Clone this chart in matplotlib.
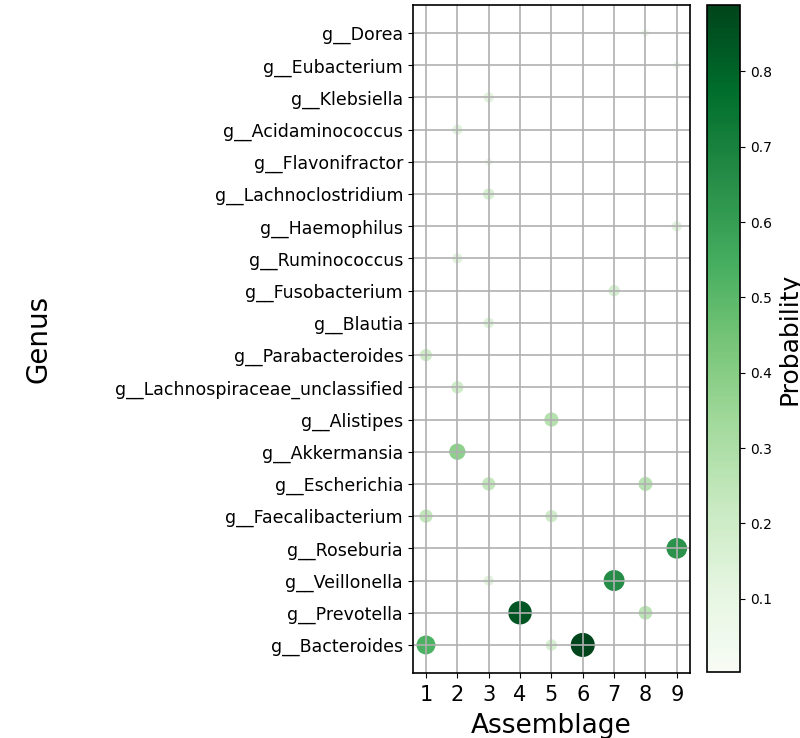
import numpy as np
import pandas as pd
import matplotlib
matplotlib.use('Agg')
import matplotlib.pyplot as plt

# ── genus order, top to bottom ──
GENERA = [
    'g__Dorea', 'g__Eubacterium', 'g__Klebsiella', 'g__Acidaminococcus',
    'g__Flavonifractor', 'g__Lachnoclostridium', 'g__Haemophilus',
    'g__Ruminococcus', 'g__Fusobacterium', 'g__Blautia', 'g__Parabacteroides',
    'g__Lachnospiraceae_unclassified', 'g__Alistipes', 'g__Akkermansia',
    'g__Escherichia', 'g__Faecalibacterium', 'g__Roseburia', 'g__Veillonella',
    'g__Prevotella', 'g__Bacteroides',
]
ASSEMBLAGES = [1, 2, 3, 4, 5, 6, 7, 8, 9]

# ── points (genus, assemblage, probability) ──
genus = [
    'g__Dorea', 'g__Eubacterium', 'g__Klebsiella', 'g__Acidaminococcus',
    'g__Flavonifractor', 'g__Lachnoclostridium', 'g__Haemophilus',
    'g__Ruminococcus', 'g__Fusobacterium', 'g__Blautia', 'g__Parabacteroides',
    'g__Lachnospiraceae_unclassified', 'g__Alistipes', 'g__Akkermansia',
    'g__Escherichia', 'g__Escherichia',
    'g__Faecalibacterium', 'g__Faecalibacterium',
    'g__Roseburia',
    'g__Veillonella', 'g__Veillonella',
    'g__Prevotella', 'g__Prevotella',
    'g__Bacteroides', 'g__Bacteroides', 'g__Bacteroides', 'g__Bacteroides',
    'g__Bacteroides',
]
assemblage = [8, 9, 3, 2, 3, 3, 9, 2, 7, 3, 1, 2, 5, 2,
              3, 8, 1, 5, 9, 3, 7, 4, 8, 1, 4, 5, 6, 8]
probability = [0.06, 0.06, 0.13, 0.13, 0.06, 0.17, 0.13, 0.13, 0.17, 0.14,
               0.20, 0.20, 0.28, 0.38, 0.24, 0.27, 0.24, 0.20, 0.64, 0.13,
               0.66, 0.84, 0.26, 0.53, 0.003, 0.17, 0.888, 0.015]

df = pd.DataFrame({'genus': genus, 'assemblage': assemblage, 'prob': probability})
ypos = {g: len(GENERA) - 1 - i for i, g in enumerate(GENERA)}
df['y'] = df['genus'].map(ypos)

fig = plt.figure(figsize=(8, 7.38), dpi=100)
ax = fig.add_axes([0.516, 0.0881, 0.3465, 0.9051])
cax = fig.add_axes([0.884, 0.0895, 0.041, 0.9037])

sc = ax.scatter(df['assemblage'], df['y'], c=df['prob'], s=df['prob'] * 300,
                cmap='Greens', zorder=1)
ax.grid(True, color='#b0b0b0', lw=1.2, zorder=1.5)

ax.set_xlim(0.58, 9.42)
ax.set_ylim(-0.87, len(GENERA) - 1 + 0.87)
ax.set_xticks(ASSEMBLAGES)
ax.set_xticklabels([str(a) for a in ASSEMBLAGES], fontsize=15)
ax.tick_params(axis='x', pad=5)
ax.set_yticks([ypos[g] for g in GENERA])
ax.set_yticklabels(GENERA, fontsize=12.5)
ax.set_xlabel('Assemblage', fontsize=19, labelpad=6)
ax.set_ylabel('Genus', fontsize=20)
ax.yaxis.set_label_coords(-1.30, 0.5)
for sp in ax.spines.values():
    sp.set_linewidth(1.2)

cb = fig.colorbar(sc, cax=cax)
cb.set_label('Probability', fontsize=18)
cb.ax.tick_params(labelsize=10)
cb.outline.set_linewidth(1.2)

plt.savefig('out.png', dpi=100)
